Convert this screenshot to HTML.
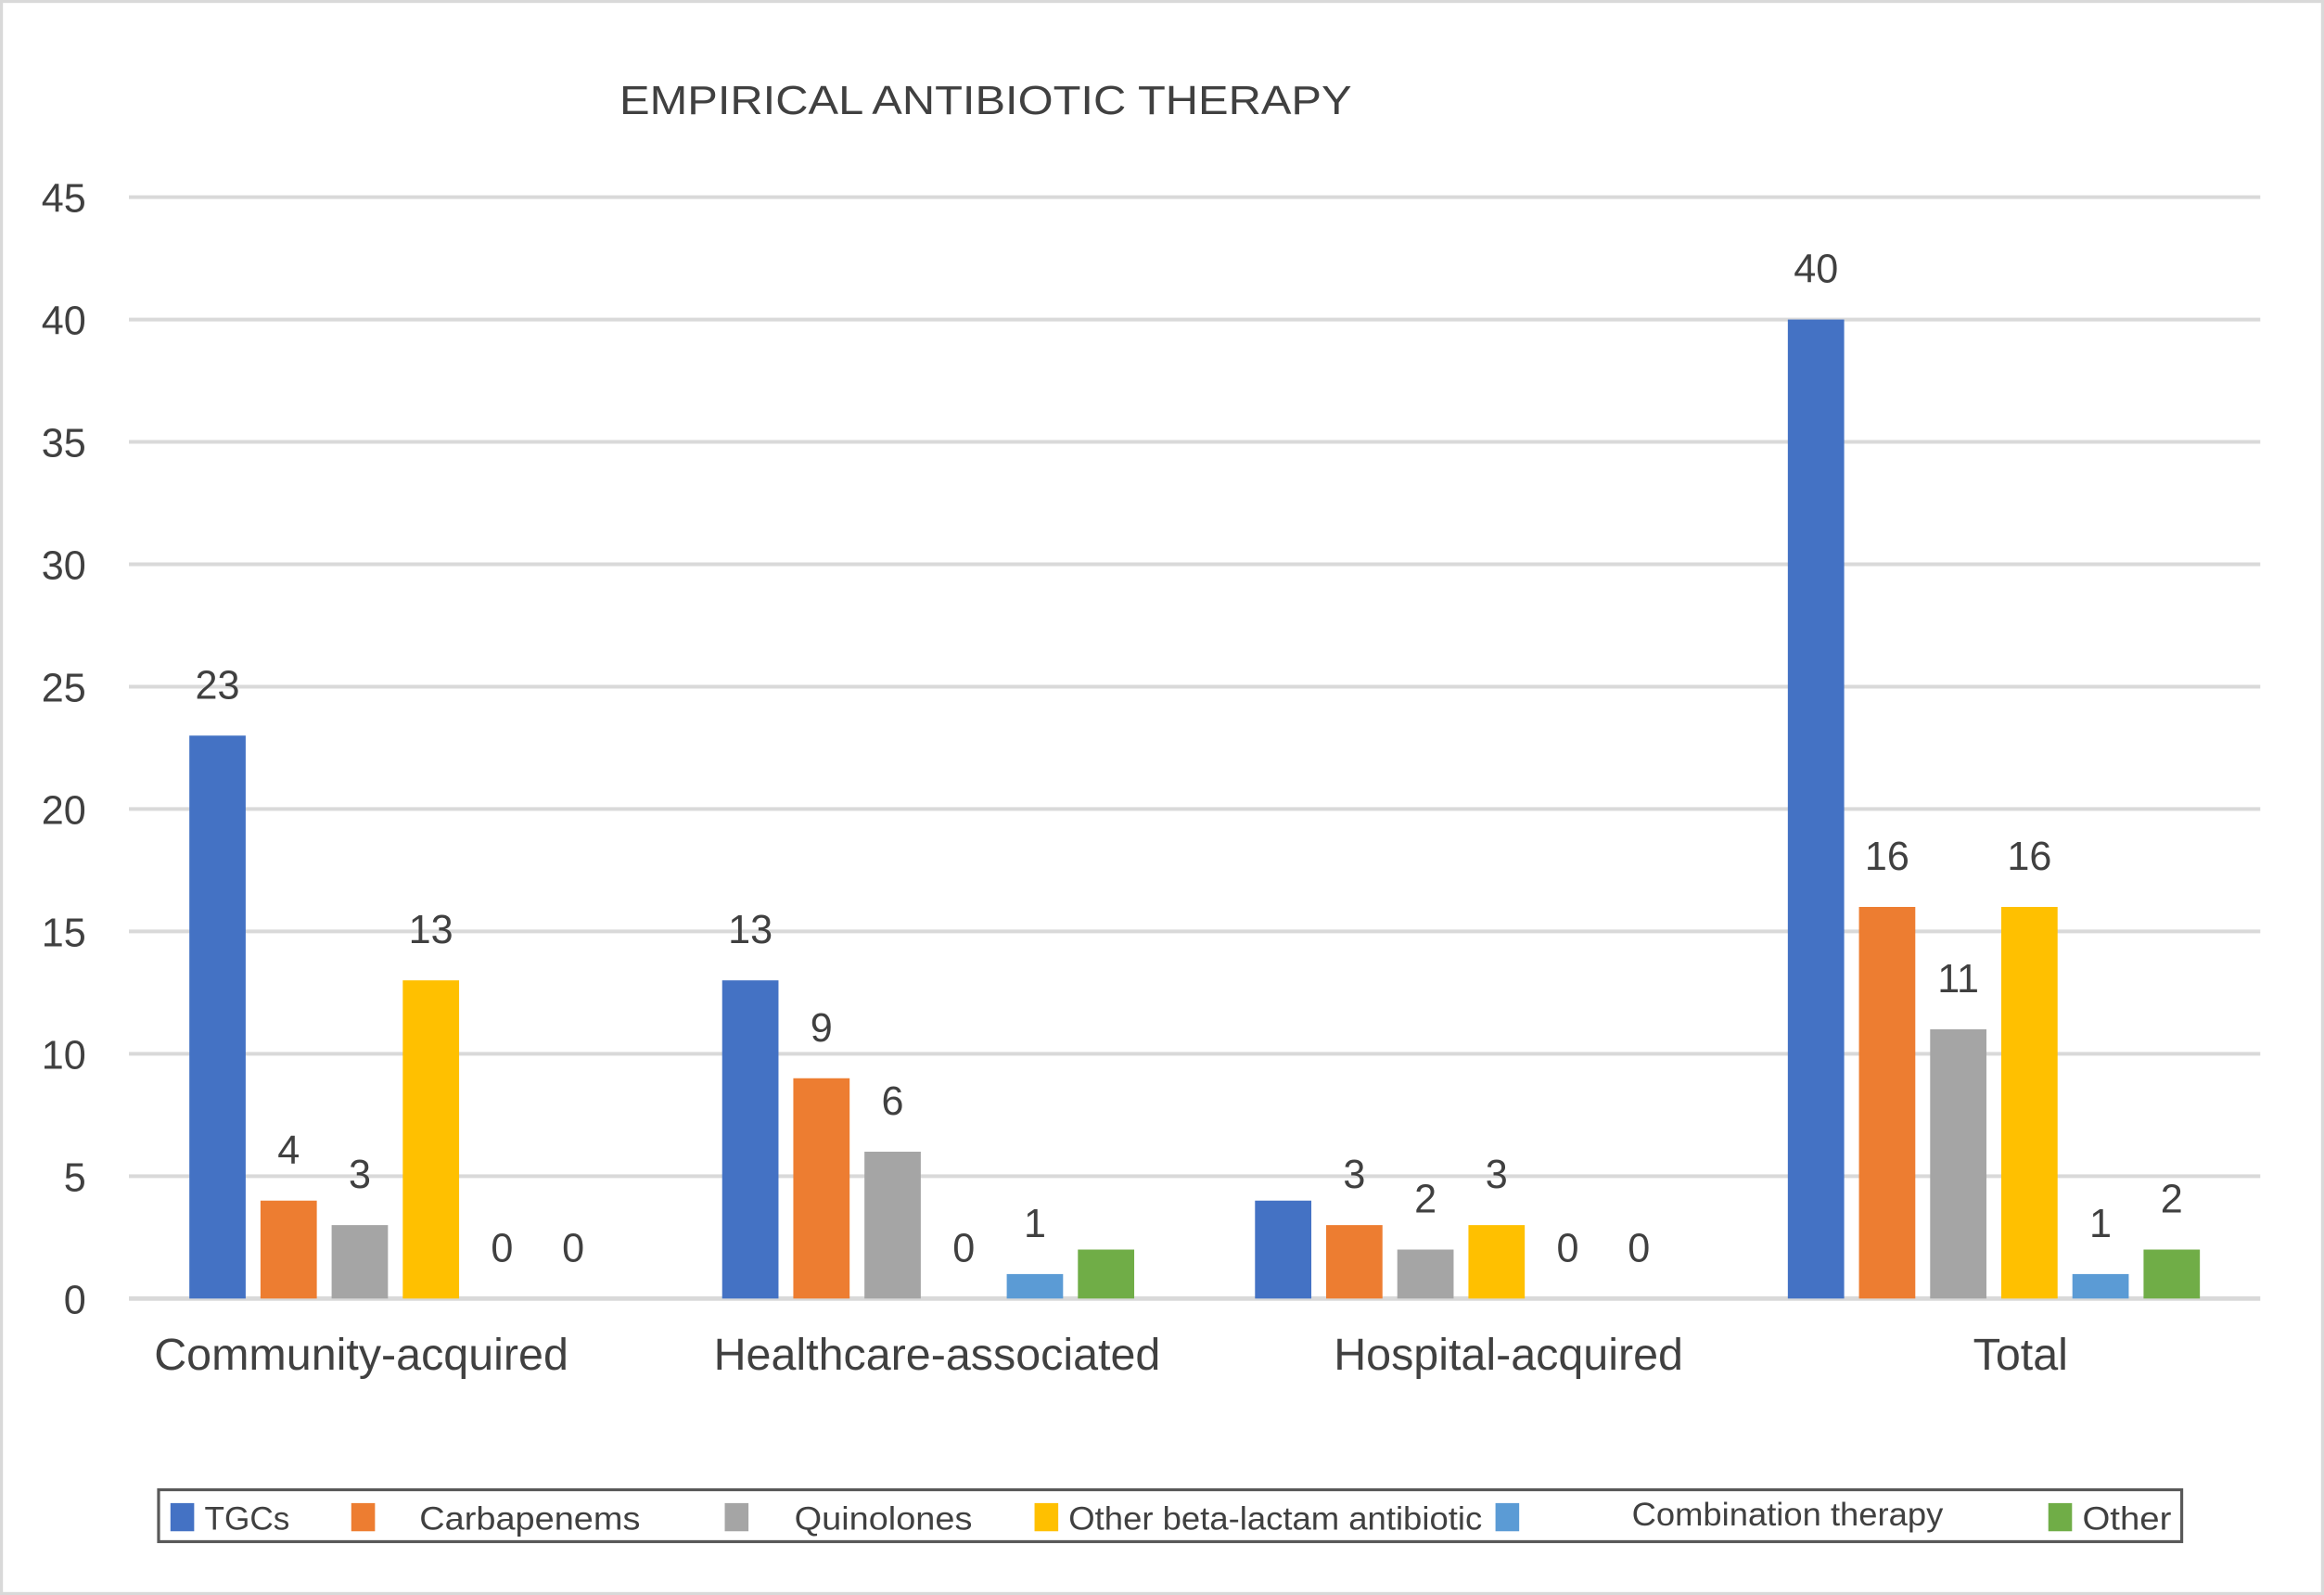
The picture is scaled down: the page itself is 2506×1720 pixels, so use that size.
<!DOCTYPE html>
<html><head><meta charset="utf-8"><style>
html,body{margin:0;padding:0;background:#fff}
svg{display:block}
text{font-family:"Liberation Sans",Arial,sans-serif;fill:#404040}
</style></head><body>
<svg id="chart" width="2506" height="1720" viewBox="0 0 1568 1076" preserveAspectRatio="none" xmlns="http://www.w3.org/2000/svg">
<rect x="1" y="1" width="1566" height="1074" fill="#fff" stroke="#d9d9d9" stroke-width="2"/>
<text x="418" y="77" font-size="27" textLength="494" lengthAdjust="spacingAndGlyphs">EMPIRICAL ANTIBIOTIC THERAPY</text>
<g id="grid"></g><g id="bars"></g><g id="labels"></g>
<g>
<rect x="107" y="1005" width="1365" height="35" fill="#fff" stroke="#595959" stroke-width="2"/>
<rect x="115" y="1014" width="16" height="19" fill="#4472c4"/>
<text x="138" y="1032" font-size="22">TGCs</text>
<rect x="237" y="1014" width="16" height="19" fill="#ed7d31"/>
<text x="283" y="1032" font-size="22" textLength="149" lengthAdjust="spacingAndGlyphs">Carbapenems</text>
<rect x="489" y="1014" width="16" height="19" fill="#a5a5a5"/>
<text x="536" y="1032" font-size="22" textLength="120" lengthAdjust="spacingAndGlyphs">Quinolones</text>
<rect x="698" y="1014" width="16" height="19" fill="#ffc000"/>
<text x="721" y="1032" font-size="22" textLength="279" lengthAdjust="spacingAndGlyphs">Other beta-lactam antibiotic</text>
<rect x="1009" y="1014" width="16" height="19" fill="#5b9bd5"/>
<text x="1101" y="1029" font-size="22" textLength="210" lengthAdjust="spacingAndGlyphs">Combination therapy</text>
<rect x="1382" y="1014" width="16" height="19" fill="#70ad47"/>
<text x="1405" y="1032" font-size="22" textLength="60" lengthAdjust="spacingAndGlyphs">Other</text>
</g>
</svg>
<script>
const categories = ["Community-acquired","Healthcare-associated","Hospital-acquired","Total"];
const seriesNames = ["TGCs","Carbapenems","Quinolones","Other beta-lactam antibiotic","Combination therapy","Other"];
const tgcs = [23,13,4,40];
const carbapenems = [4,9,3,16];
const quinolones = [3,6,2,11];
const otherBetaLactam = [13,0,3,16];
const combination = [0,1,0,1];
const other = [0,2,0,2];
const yTicks = [0,5,10,15,20,25,30,35,40,45];
// labels not printed in the source chart: "series-category"
const hiddenLabels = ["0-2","5-1"];

const series = [tgcs,carbapenems,quinolones,otherBetaLactam,combination,other];
const colors = ["#4472c4","#ed7d31","#a5a5a5","#ffc000","#5b9bd5","#70ad47"];
const catLabelShift = [-23, 6, 32, 18];
const NS = "http://www.w3.org/2000/svg";
const plotL = 87, plotR = 1525, y0 = 876, y45 = 133;
const yMax = 45;
function yScale(v){ return y0 - (v / yMax) * (y0 - y45); }
const groupW = (plotR - plotL) / categories.length;
const barW = 38, step = 48;
function xGroup(i){ return plotL + groupW * (i + 0.5); }
function xBar(i, s){ return xGroup(i) - (series.length * step - (step - barW)) / 2 + s * step; }

const grid = document.getElementById('grid');
yTicks.forEach(t => {
  const l = document.createElementNS(NS,'line');
  
  
  l.setAttribute('x1', plotL); l.setAttribute('x2', plotR);
  l.setAttribute('y1', yScale(t)); l.setAttribute('y2', yScale(t));
  l.setAttribute('stroke', '#d9d9d9'); l.setAttribute('stroke-width', t === 0 ? 3 : 2.5);
  grid.appendChild(l);
  const tx = document.createElementNS(NS,'text');
  
  
  tx.setAttribute('x', 58); tx.setAttribute('y', yScale(t) + 10);
  tx.setAttribute('text-anchor', 'end'); tx.setAttribute('font-size', '27');
  tx.textContent = t;
  grid.appendChild(tx);
});

const bars = document.getElementById('bars');
const labels = document.getElementById('labels');
categories.forEach((c, i) => {
  series.forEach((arr, s) => {
    const v = arr[i];
    const x = xBar(i, s);
    if (v > 0) {
      const r = document.createElementNS(NS,'rect');
      
      
      r.setAttribute('x', x); r.setAttribute('width', barW);
      r.setAttribute('y', yScale(v)); r.setAttribute('height', y0 - yScale(v));
      r.setAttribute('fill', colors[s]);
      bars.appendChild(r);
    }
    if (hiddenLabels.indexOf(s + '-' + i) >= 0) return;
    const t = document.createElementNS(NS,'text');
    
    
    t.setAttribute('x', x + barW / 2); t.setAttribute('y', yScale(v) - 25);
    t.setAttribute('text-anchor', 'middle'); t.setAttribute('font-size', '27');
    t.textContent = v;
    labels.appendChild(t);
  });
  const cl = document.createElementNS(NS,'text');
  
  
  cl.setAttribute('x', xGroup(i) + catLabelShift[i]); cl.setAttribute('y', 924);
  cl.setAttribute('text-anchor', 'middle'); cl.setAttribute('font-size', '30.3');
  cl.textContent = c;
  labels.appendChild(cl);
});
</script>
</body></html>
